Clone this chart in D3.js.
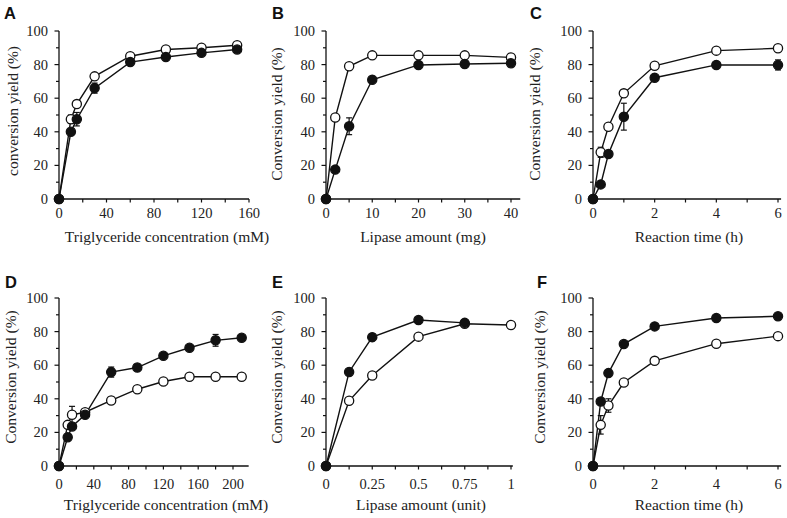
<!DOCTYPE html>
<html><head><meta charset="utf-8">
<script src="https://cdn.jsdelivr.net/npm/d3@7"></script>
<style>
body{margin:0;background:#fff;}
svg{display:block;}
.tick text{font-family:"Liberation Serif","Times New Roman",serif;}
</style></head>
<body>
<svg id="chart" width="787" height="518"></svg>
<script>
// ---------- DATA ----------
const yTicks = [0,20,40,60,80,100];

// Panel A
const aX = [0,10,15,30,60,90,120,150];
const aOpen = [0,47.5,56.5,73,85,89,90,91.5];
const aOpenErr = [0,2.5,0,0,0,0,0,0];
const aFilled = [0,40,47.5,66,81.5,84.5,87,89];
const aFilledErr = [0,0,4,3,0,0,0,0];
const aTicks = [0,40,80,120,160];

// Panel B
const bX = [0,2,5,10,20,30,40];
const bOpen = [0,48.5,79,85.5,85.5,85.5,84.3];
const bOpenErr = [0,0,0,0,0,0,0];
const bFilled = [0,17.5,43.3,71,79.8,80.4,80.8];
const bFilledErr = [0,0,5,0,0,0,0];
const bTicks = [0,10,20,30,40];

// Panel C
const cX = [0,0.25,0.5,1,2,4,6];
const cOpen = [0,27.8,43,62.9,79.3,88.3,89.7];
const cOpenErr = [0,3,0,0,0,0,0];
const cFilled = [0,8.7,26.8,49,72.2,79.8,79.8];
const cFilledErr = [0,0,1,8,0,0,3];
const cTicks = [0,2,4,6];

// Panel D
const dX = [0,10,15,30,60,90,120,150,180,210];
const dOpen = [0,24.5,30.5,32,39,45.7,50.3,53.1,53.1,53.1];
const dOpenErr = [0,0,5,1.5,2,0,0,2,0,0];
const dFilled = [0,17.1,23.5,30.5,55.9,58.6,65.6,70.4,74.8,76.3];
const dFilledErr = [0,0,0,0,3,2,0,0,3.5,0];
const dTicks = [0,40,80,120,160,200];

// Panel E
const eXOpen = [0,0.125,0.25,0.5,0.75,1];
const eOpen = [0,38.8,53.9,77,84.7,83.9];
const eOpenErr = [0,0,0,0,0,0];
const eXFilled = [0,0.125,0.25,0.5,0.75];
const eFilled = [0,56,76.7,86.9,85.2];
const eFilledErr = [0,0,2,0,0];
const eTicks = [0,0.25,0.5,0.75,1];
const eTickLabels = ["0","0.25","0.5","0.75","1"];

// Panel F
const fX = [0,0.25,0.5,1,2,4,6];
const fOpen = [0,24.5,36,49.7,62.6,72.8,77.3];
const fOpenErr = [0,5.5,4,0,0,0,0];
const fFilled = [0,38.4,55.3,72.6,83.1,88.1,89.1];
const fFilledErr = [0,2,0,0,0,0,0];
const fTicks = [0,2,4,6];

// ---------- LAYOUT ----------
const rows = [
  {top:31, bottom:199, tickLabelDy:14, titleY:237, letterY:19},
  {top:298, bottom:466, tickLabelDy:18, titleY:505, letterY:288}
];
const panels = [
  {letter:"A", row:0, x0:59, x1:249, dom:160, axEnd:160, minor:20, ticks:aTicks, labels:null,
   xo:aX, open:aOpen, openErr:aOpenErr, xf:aX, filled:aFilled, filledErr:aFilledErr,
   xTitle:"Triglyceride concentration (mM)", xTitleX:167, yTitle:"conversion yield (%)", yTitleX:13, yTitleY:111, letterX:4},
  {letter:"B", row:0, x0:326, x1:511, dom:40, axEnd:42, minor:5, ticks:bTicks, labels:null,
   xo:bX, open:bOpen, openErr:bOpenErr, xf:bX, filled:bFilled, filledErr:bFilledErr,
   xTitle:"Lipase amount (mg)", xTitleX:423, yTitle:"Conversion yield (%)", yTitleX:277, yTitleY:114, letterX:272},
  {letter:"C", row:0, x0:593, x1:778, dom:6, axEnd:6.1, minor:1, ticks:cTicks, labels:null,
   xo:cX, open:cOpen, openErr:cOpenErr, xf:cX, filled:cFilled, filledErr:cFilledErr,
   xTitle:"Reaction time (h)", xTitleX:689, yTitle:"Conversion yield (%)", yTitleX:535, yTitleY:114, letterX:530},
  {letter:"D", row:1, x0:59, x1:233, dom:200, axEnd:218, minor:20, ticks:dTicks, labels:null,
   xo:dX, open:dOpen, openErr:dOpenErr, xf:dX, filled:dFilled, filledErr:dFilledErr,
   xTitle:"Triglyceride concentration (mM)", xTitleX:166, yTitle:"Conversion yield (%)", yTitleX:11, yTitleY:377, letterX:5},
  {letter:"E", row:1, x0:326, x1:511, dom:1, axEnd:1.01, minor:0.125, ticks:eTicks, labels:eTickLabels,
   xo:eXOpen, open:eOpen, openErr:eOpenErr, xf:eXFilled, filled:eFilled, filledErr:eFilledErr,
   xTitle:"Lipase amount (unit)", xTitleX:421, yTitle:"Conversion yield (%)", yTitleX:277, yTitleY:377, letterX:272},
  {letter:"F", row:1, x0:593, x1:778, dom:6, axEnd:6.1, minor:1, ticks:fTicks, labels:null,
   xo:fX, open:fOpen, openErr:fOpenErr, xf:fX, filled:fFilled, filledErr:fFilledErr,
   xTitle:"Reaction time (h)", xTitleX:689, yTitle:"Conversion yield (%)", yTitleX:540, yTitleY:377, letterX:537}
];

const svg = d3.select("#chart");
const serif = "'Liberation Serif','Times New Roman',serif";
const sans = "'Liberation Sans',Arial,sans-serif";
const R = 4.6;

panels.forEach(p => {
  const row = rows[p.row];
  const x = d3.scaleLinear().domain([0,p.dom]).range([p.x0,p.x1]);
  const y = d3.scaleLinear().domain([0,100]).range([row.bottom,row.top]);
  const g = svg.append("g");

  // axes lines
  g.append("line").attr("x1",x(0)).attr("x2",x(p.axEnd)).attr("y1",y(0)).attr("y2",y(0))
    .attr("stroke","#111").attr("stroke-width",1.3);
  g.append("line").attr("x1",x(0)).attr("x2",x(0)).attr("y1",y(0)).attr("y2",y(100))
    .attr("stroke","#111").attr("stroke-width",1.3);

  // y ticks
  const yMinor = d3.range(10,100,20);
  yTicks.forEach(v => {
    g.append("line").attr("x1",x(0)-4.5).attr("x2",x(0)).attr("y1",y(v)).attr("y2",y(v))
      .attr("stroke","#111").attr("stroke-width",1.2);
    g.append("text").attr("x",x(0)-11).attr("y",y(v)).attr("dy","0.35em")
      .attr("text-anchor","end").attr("font-family",serif).attr("font-size",14.5).attr("fill","#222").text(v);
  });
  yMinor.forEach(v => {
    g.append("line").attr("x1",x(0)-3).attr("x2",x(0)).attr("y1",y(v)).attr("y2",y(v))
      .attr("stroke","#111").attr("stroke-width",1.2);
  });
  // x ticks
  const nMinor = Math.round(p.dom/p.minor);
  d3.range(1,nMinor+1).forEach(i => {
    const v = i*p.minor;
    g.append("line").attr("x1",x(v)).attr("x2",x(v)).attr("y1",y(0)).attr("y2",y(0)+3.5)
      .attr("stroke","#111").attr("stroke-width",1.2);
  });
  p.ticks.forEach((v,i) => {
    g.append("text").attr("x",x(v)).attr("y",y(0)+row.tickLabelDy).attr("dy","0.35em")
      .attr("text-anchor","middle").attr("font-family",serif).attr("font-size",14.5).attr("fill","#222")
      .text(p.labels ? p.labels[i] : v);
  });

  // titles
  g.append("text").attr("x",p.xTitleX).attr("y",row.titleY).attr("dy","0.35em")
    .attr("text-anchor","middle").attr("font-family",serif).attr("font-size",15.5).attr("fill","#222").text(p.xTitle);
  g.append("text").attr("transform",`translate(${p.yTitleX},${p.yTitleY}) rotate(-90)`).attr("dy","0.35em")
    .attr("text-anchor","middle").attr("font-family",serif).attr("font-size",15.5).attr("fill","#222").text(p.yTitle);
  g.append("text").attr("x",p.letterX).attr("y",row.letterY)
    .attr("font-family",sans).attr("font-weight","bold").attr("font-size",16.5).attr("fill","#111").text(p.letter);

  const line = d3.line().x(d=>x(d[0])).y(d=>y(d[1]));
  const series = [
    {xs:p.xo, ys:p.open, es:p.openErr, fill:"#fff"},
    {xs:p.xf, ys:p.filled, es:p.filledErr, fill:"#111"}
  ];
  series.forEach(s => {
    const pts = s.xs.map((xv,i)=>[xv,s.ys[i],s.es[i]]);
    g.append("path").attr("d",line(pts)).attr("fill","none").attr("stroke","#111").attr("stroke-width",1.4);
  });
  series.forEach(s => {
    const pts = s.xs.map((xv,i)=>[xv,s.ys[i],s.es[i]]);
    pts.filter(d=>d[2]>0).forEach(d => {
      const cx = x(d[0]);
      g.append("line").attr("x1",cx).attr("x2",cx).attr("y1",y(d[1]-d[2])).attr("y2",y(d[1]+d[2]))
        .attr("stroke","#111").attr("stroke-width",1.2);
      [d[1]-d[2], d[1]+d[2]].forEach(v => g.append("line").attr("x1",cx-3).attr("x2",cx+3)
        .attr("y1",y(v)).attr("y2",y(v)).attr("stroke","#111").attr("stroke-width",1.2));
    });
    g.selectAll(null).data(pts).enter().append("circle")
      .attr("cx",d=>x(d[0])).attr("cy",d=>y(d[1])).attr("r",R)
      .attr("fill",s.fill).attr("stroke","#111").attr("stroke-width",1.3);
  });
});
</script>
</body></html>
